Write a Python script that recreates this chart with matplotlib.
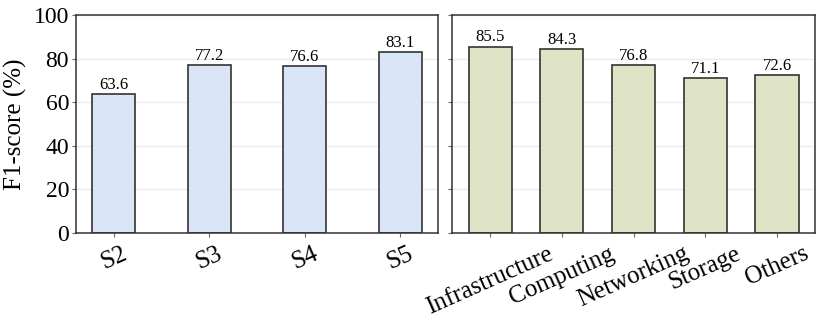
import matplotlib
matplotlib.use("Agg")
import matplotlib.pyplot as plt

plt.rcParams['font.family'] = ['Liberation Serif', 'DejaVu Serif']

stages = ["S2", "S3", "S4", "S5"]
stage_scores = [63.6, 77.2, 76.6, 83.1]
domains = ["Infrastructure", "Computing", "Networking", "Storage", "Others"]
domain_scores = [85.5, 84.3, 76.8, 71.1, 72.6]
yticks = [0, 20, 40, 60, 80, 100]

fig = plt.figure(figsize=(8.22, 3.24), dpi=100)
ax1 = fig.add_axes([0.0925, 0.281, 0.4405, 0.673])
ax2 = fig.add_axes([0.55, 0.281, 0.4415, 0.673])

def style(ax, labels, vals, color, width):
    x = list(range(len(labels)))
    ax.set_axisbelow(True)
    ax.yaxis.grid(True, color='#ebebeb', linewidth=1)
    bars = ax.bar(x, vals, width=width, color=color, edgecolor='#333333', linewidth=1.2)
    for b, v in zip(bars, vals):
        ax.text(b.get_x() + b.get_width() / 2, v + 0.5, f"{v}", ha='center', va='bottom', fontsize=12)
    ax.set_xticks(x)
    ax.set_xticklabels(labels, rotation=24, ha='center', fontsize=18)
    ax.set_ylim(0, 100)
    ax.set_yticks(yticks)
    for s in ax.spines.values():
        s.set_color('#333333')
        s.set_linewidth(1.1)
    ax.tick_params(axis='both', length=3, color='#666666', pad=2)
    ax.tick_params(axis='x', pad=4)

style(ax1, stages, stage_scores, '#dae6f7', 0.45)
style(ax2, domains, domain_scores, '#dfe4c6', 0.6)
ax1.tick_params(axis='y', labelsize=17)
ax1.set_ylabel("F1-score (%)", fontsize=18, labelpad=5)
ax2.tick_params(axis='y', labelleft=False)

fig.savefig("out.png", dpi=100)
